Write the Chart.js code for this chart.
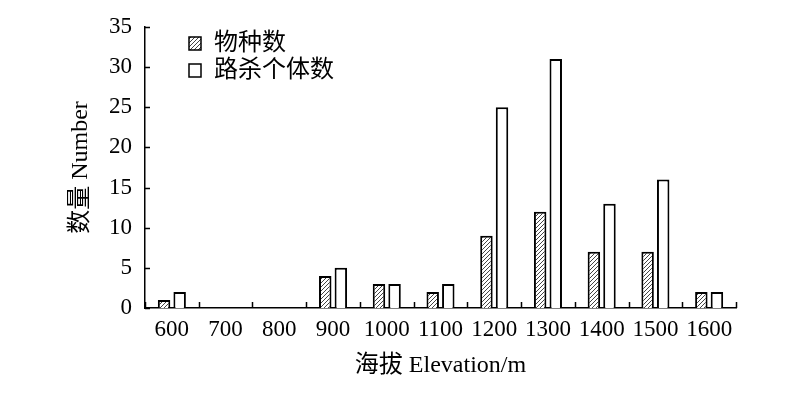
<!DOCTYPE html>
<html>
<head>
<meta charset="utf-8">
<script src="https://cdn.jsdelivr.net/npm/chart.js@4"></script>
<style>
  html, body { margin: 0; padding: 0; background: #fff; }
  #wrap { width: 800px; height: 395px; }
</style>
</head>
<body>
<div id="wrap"><canvas id="myChart" width="800" height="395"></canvas></div>
<script>
// 海拔分组
let labels = ['600','700','800','900','1000','1100','1200','1300','1400','1500','1600'];
let wuzhong = [1,0,0,4,3,2,9,12,7,7,2];        // 物种数
let lusha = [2,0,0,5,3,3,25,31,13,16,2];       // 路杀个体数
let seriesNames = ['物种数','路杀个体数'];
let yTicks = [0,5,10,15,20,25,30,35];

const serif = "'Liberation Serif', 'Noto Sans CJK SC', serif";

// 斜线填充
function makeHatch() {
  let c = document.createElement('canvas');
  c.width = 4; c.height = 4;
  let g = c.getContext('2d');
  g.fillStyle = '#fff';
  g.fillRect(0, 0, 4, 4);
  g.strokeStyle = '#444';
  g.lineWidth = 1;
  g.beginPath();
  g.moveTo(-1, 5); g.lineTo(5, -1);
  g.moveTo(-1, 1); g.lineTo(1, -1);
  g.moveTo(3, 5); g.lineTo(5, 3);
  g.stroke();
  return g.createPattern(c, 'repeat');
}
let hatch = makeHatch();

// 内侧刻度 + 图例
const extras = {
  id: 'extras',
  afterDraw(chart) {
    let ctx = chart.ctx;
    let area = chart.chartArea;
    let x = chart.scales.x, y = chart.scales.y;
    ctx.save();
    ctx.strokeStyle = '#000';
    ctx.lineWidth = 1.5;
    ctx.beginPath();
    yTicks.forEach(v => {
      let py = Math.round(y.getPixelForValue(v)) + 0.5;
      ctx.moveTo(area.left, py); ctx.lineTo(area.left + 5, py);
    });
    for (let i = 0; i <= labels.length; i++) {
      let px = Math.round(x.left + (x.right - x.left) * i / labels.length) + 0.5;
      ctx.moveTo(px, area.bottom); ctx.lineTo(px, area.bottom - 6);
    }
    ctx.stroke();

    // 图例
    ctx.font = "24px " + serif;
    ctx.textBaseline = 'middle';
    ctx.fillStyle = '#000';
    chart.data.datasets.forEach((ds, i) => {
      let bx = 189, by = 37 + i * 27;
      ctx.fillStyle = ds.backgroundColor;
      ctx.fillRect(bx, by, 12, 13);
      ctx.strokeStyle = '#000';
      ctx.lineWidth = 1.5;
      ctx.strokeRect(bx, by, 12, 13);
      ctx.fillStyle = '#000';
      ctx.fillText(ds.label, 214, by + 7);
    });
    ctx.restore();
  }
};

let ctx = document.getElementById('myChart').getContext('2d');
let myChart = new Chart(ctx, {
  type: 'bar',
  data: {
    labels: labels,
    datasets: [{
      label: seriesNames[0],
      data: wuzhong,
      backgroundColor: hatch,
      borderColor: '#000',
      borderWidth: 2
    }, {
      label: seriesNames[1],
      data: lusha,
      backgroundColor: '#fff',
      borderColor: '#000',
      borderWidth: 2
    }]
  },
  options: {
    responsive: false,
    animation: false,
    categoryPercentage: 0.58,
    barPercentage: 0.8,
    layout: { padding: { top: 27, right: 64, left: 0, bottom: 0 } },
    plugins: {
      legend: { display: false },
      tooltip: { enabled: false }
    },
    scales: {
      x: {
        grid: { display: false },
        border: { display: true, color: '#000', width: 1.5 },
        ticks: { color: '#000', font: { family: serif, size: 23 }, padding: 0, maxRotation: 0 },
        title: {
          display: true,
          text: '海拔 Elevation/m',
          color: '#000',
          font: { family: serif, size: 24 },
          padding: { top: 0, bottom: 15 }
        },
        afterFit(scale) { scale.height = 87; }
      },
      y: {
        min: 0,
        max: 35,
        grid: { display: false },
        border: { display: true, color: '#000', width: 1.5 },
        ticks: { stepSize: 5, color: '#000', font: { family: serif, size: 23 }, padding: 5 },
        title: {
          display: true,
          text: '数量 Number',
          color: '#000',
          font: { family: serif, size: 24 },
          padding: { top: 66, bottom: 0 }
        },
        afterFit(scale) { scale.width = 145; }
      }
    }
  },
  plugins: [extras]
});
</script>
</body>
</html>
